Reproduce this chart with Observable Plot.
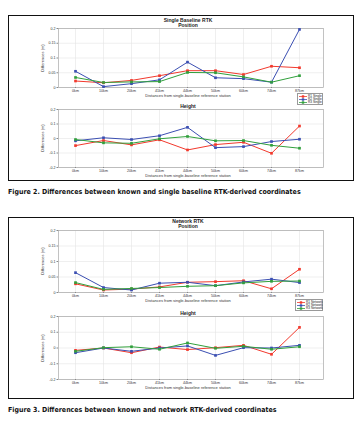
<!DOCTYPE html>
<html><head><meta charset="utf-8">
<script src="https://cdn.jsdelivr.net/npm/d3@7"></script>
<script src="https://cdn.jsdelivr.net/npm/@observablehq/plot@0.6"></script>
<style>
body{margin:0;background:#fff;}
#root{position:relative;width:359px;height:424px;overflow:hidden;font-family:"Liberation Sans",Arial,sans-serif;background:#fff;}
.box{position:absolute;border:1.5px solid #111;box-sizing:border-box;}
.t{position:absolute;transform:translate(-50%,-50%);white-space:nowrap;font-weight:bold;font-size:5px;color:#222;line-height:1;}
.ax{position:absolute;transform:translate(-50%,-50%);white-space:nowrap;font-size:4px;color:#333;line-height:1;}
.yl{position:absolute;transform:translate(-50%,-50%) rotate(-90deg);white-space:nowrap;font-size:4px;color:#333;line-height:1;}
.cap{position:absolute;left:8px;transform:translateY(-50%);white-space:nowrap;font-family:"DejaVu Sans Condensed","DejaVu Sans",sans-serif;font-stretch:condensed;font-weight:bold;font-size:7px;color:#111;line-height:1;}
.leg{position:absolute;border:0.6px solid #999;background:#fff;box-sizing:border-box;padding:0.5px 1px;}
.leg .row{display:flex;align-items:center;height:3.4px;font-size:3.2px;color:#222;white-space:nowrap;line-height:1;}
.leg svg{margin-right:1px;flex:none;}
svg{overflow:visible;}
</style>
</head><body>
<div id="root"></div>
<script>
const distances = ["0km","10km","20km","41km","44km","50km","60km","74km","87km"];
const seriesNames = ["R1","R2","R3"];
const seriesColors = ["#f2392d","#3b4fb2","#31a03c"];
const posTicks = [0, 0.05, 0.1, 0.15, 0.2];
const hgtTicks = [-0.2, -0.1, 0, 0.1, 0.2];

// Figure 2: single baseline RTK
const singlePosR1 = [0.022, 0.016, 0.024, 0.040, 0.057, 0.057, 0.044, 0.072, 0.067];
const singlePosR2 = [0.055, 0.003, 0.013, 0.026, 0.086, 0.033, 0.030, 0.018, 0.197];
const singlePosR3 = [0.034, 0.017, 0.019, 0.020, 0.051, 0.050, 0.036, 0.018, 0.040];
const singleHgtR1 = [-0.049, -0.014, -0.044, -0.009, -0.079, -0.042, -0.026, -0.102, 0.086];
const singleHgtR2 = [-0.016, 0.005, -0.007, 0.019, 0.077, -0.063, -0.056, -0.021, -0.005];
const singleHgtR3 = [-0.007, -0.030, -0.033, -0.002, 0.014, -0.016, -0.014, -0.047, -0.067];

// Figure 3: network RTK
const netPosR1 = [0.028, 0.008, 0.011, 0.018, 0.033, 0.035, 0.038, 0.012, 0.075];
const netPosR2 = [0.064, 0.016, 0.008, 0.030, 0.033, 0.022, 0.034, 0.043, 0.032];
const netPosR3 = [0.032, 0.010, 0.013, 0.016, 0.020, 0.022, 0.031, 0.036, 0.037];
const netHgtR1 = [-0.015, 0.000, -0.030, 0.006, -0.010, 0.002, 0.017, -0.040, 0.131];
const netHgtR2 = [-0.030, 0.000, -0.021, 0.000, 0.013, -0.047, 0.002, 0.000, 0.017];
const netHgtR3 = [-0.021, 0.002, 0.008, -0.008, 0.032, -0.002, 0.011, -0.008, 0.008];

const root = document.getElementById("root");
function table(r1, r2, r3) {
  return [r1, r2, r3].flatMap((arr, i) => arr.map((v, j) => ({dist: distances[j], series: seriesNames[i], value: v})));
}
function fmt(d) { return String(+d.toFixed(2)); }
function div(cls, text, x, y, extra) {
  const e = document.createElement("div");
  e.className = cls; e.textContent = text;
  if (x != null) e.style.left = x + "px";
  e.style.top = y + "px";
  if (extra) Object.assign(e.style, extra);
  root.append(e);
  return e;
}
function box(top, bottom) {
  const e = document.createElement("div");
  e.className = "box";
  Object.assign(e.style, {left: "8px", top: top + "px", width: "346px", height: (bottom - top) + "px"});
  root.append(e);
}
function panel({data, yDomain, yTicks, plotTop, plotBottom}) {
  const pad = 10;
  const p = Plot.plot({
    width: 359, height: plotBottom - plotTop + 2 * pad,
    marginLeft: 58, marginRight: 36, marginTop: pad, marginBottom: pad,
    x: {type: "point", domain: distances, range: [58, 316]},
    y: {domain: yDomain},
    color: {domain: seriesNames, range: seriesColors},
    style: {fontFamily: "Liberation Sans, Arial, sans-serif", fontSize: "3.6px", background: "transparent", color: "#333", overflow: "visible"},
    marks: [
      Plot.gridX({stroke: "#e4e4e4", strokeOpacity: 1, strokeWidth: 0.6}),
      Plot.gridY(yTicks, {stroke: "#e4e4e4", strokeOpacity: 1, strokeWidth: 0.6}),
      Plot.frame({stroke: "#a8a8a8", strokeWidth: 0.7}),
      Plot.axisX({tickSize: 1, tickPadding: 0.5, fontSize: 3.6, label: null, stroke: "#888"}),
      Plot.axisY(yTicks, {tickSize: 1.5, tickPadding: 1.5, fontSize: 3.6, label: null, tickFormat: fmt, stroke: "#888"}),
      Plot.line(data, {x: "dist", y: "value", stroke: "series", strokeWidth: 1}),
      Plot.dot(data, {x: "dist", y: "value", fill: "series", symbol: "square", r: 1.5})
    ]
  });
  p.style.position = "absolute";
  p.style.left = "0px";
  p.style.top = (plotTop - pad) + "px";
  root.append(p);
  div("yl", "Differences (m)", 43, (plotTop + plotBottom) / 2);
}
function legend(left, top, w, h, suffix) {
  const e = document.createElement("div");
  e.className = "leg";
  Object.assign(e.style, {left: left + "px", top: top + "px", width: w + "px", height: h + "px"});
  seriesNames.forEach((s, i) => {
    const row = document.createElement("div");
    row.className = "row";
    row.innerHTML = `<svg width="8" height="3" viewBox="0 0 8 3"><line x1="0" y1="1.5" x2="8" y2="1.5" stroke="${seriesColors[i]}" stroke-width="0.8"/><rect x="2.8" y="0.3" width="2.4" height="2.4" fill="${seriesColors[i]}"/></svg><span>${s} ${suffix}</span>`;
    e.append(row);
  });
  root.append(e);
}
const xLabel = "Distances from single-baseline reference station";

// Figure 2
box(15, 181);
div("t", "Single Baseline RTK", 188, 20);
div("t", "Position", 188, 24.5);
panel({data: table(singlePosR1, singlePosR2, singlePosR3), yDomain: [0, 0.2], yTicks: posTicks, plotTop: 28, plotBottom: 87});
div("ax", xLabel, 188, 95.5);
legend(297, 93, 26, 11.5, "Single");
div("t", "Height", 188, 106);
panel({data: table(singleHgtR1, singleHgtR2, singleHgtR3), yDomain: [-0.2, 0.2], yTicks: hgtTicks, plotTop: 109, plotBottom: 167});
div("ax", xLabel, 188, 175.5);
div("cap", "Figure 2. Differences between known and single baseline RTK-derived coordinates", null, 192);

// Figure 3
box(217, 399);
div("t", "Network RTK", 188, 221);
div("t", "Position", 188, 226);
panel({data: table(netPosR1, netPosR2, netPosR3), yDomain: [0, 0.2], yTicks: posTicks, plotTop: 230, plotBottom: 292});
div("ax", xLabel, 188, 300.5);
legend(295, 299, 28, 12, "Network");
div("t", "Height", 188, 313);
panel({data: table(netHgtR1, netHgtR2, netHgtR3), yDomain: [-0.2, 0.2], yTicks: hgtTicks, plotTop: 316, plotBottom: 379});
div("ax", xLabel, 188, 387.5);
div("cap", "Figure 3. Differences between known and network RTK-derived coordinates", null, 410);
</script>
</body></html>
